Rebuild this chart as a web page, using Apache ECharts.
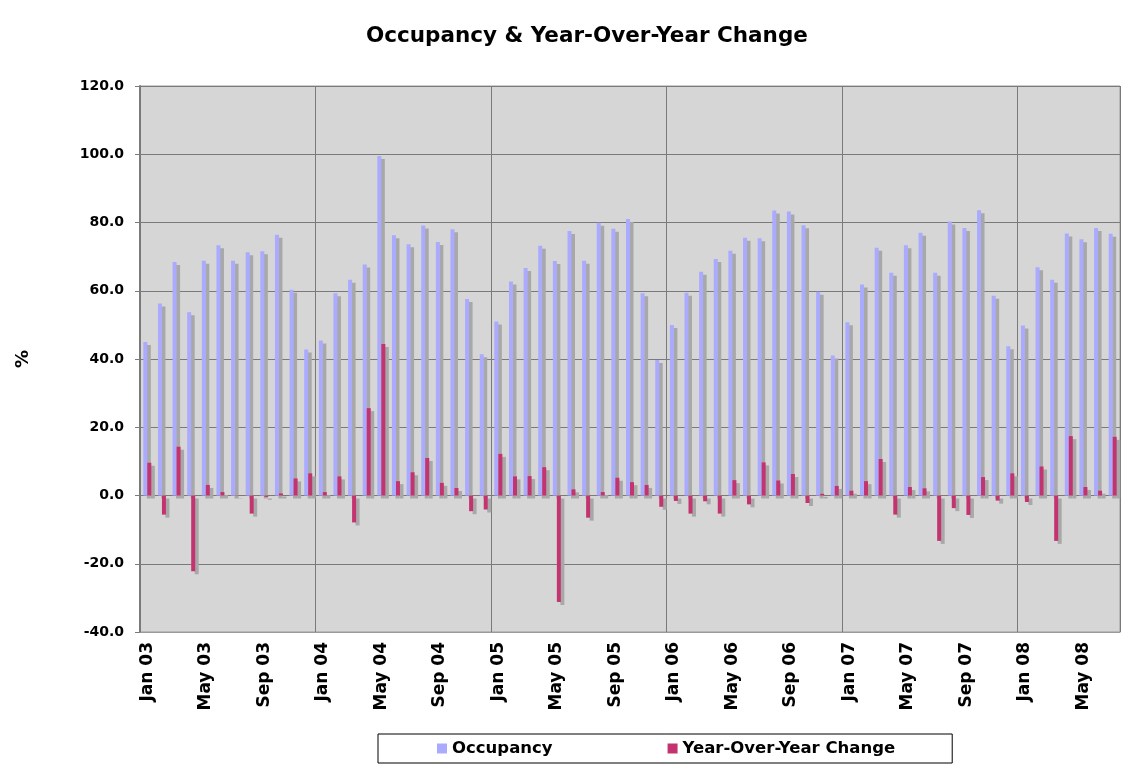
<!DOCTYPE html>
<html>
<head>
<meta charset="utf-8">
<script src="https://cdn.jsdelivr.net/npm/echarts@6/dist/echarts.min.js"></script>
<style>
html,body{margin:0;padding:0;background:#fff;}
#chart{width:1136px;height:773px;}
</style>
</head>
<body>
<div id="chart"></div>
<script>
const categories = [
  'Jan 03','Feb 03','Mar 03','Apr 03','May 03','Jun 03','Jul 03','Aug 03','Sep 03','Oct 03','Nov 03','Dec 03',
  'Jan 04','Feb 04','Mar 04','Apr 04','May 04','Jun 04','Jul 04','Aug 04','Sep 04','Oct 04','Nov 04','Dec 04',
  'Jan 05','Feb 05','Mar 05','Apr 05','May 05','Jun 05','Jul 05','Aug 05','Sep 05','Oct 05','Nov 05','Dec 05',
  'Jan 06','Feb 06','Mar 06','Apr 06','May 06','Jun 06','Jul 06','Aug 06','Sep 06','Oct 06','Nov 06','Dec 06',
  'Jan 07','Feb 07','Mar 07','Apr 07','May 07','Jun 07','Jul 07','Aug 07','Sep 07','Oct 07','Nov 07','Dec 07',
  'Jan 08','Feb 08','Mar 08','Apr 08','May 08','Jun 08','Jul 08'
];
const occupancy = [
  45.0, 56.3, 68.4, 53.7, 68.8, 73.3, 68.8, 71.3, 71.6, 76.4, 60.3, 42.8,
  45.4, 59.3, 63.2, 67.7, 99.5, 76.3, 73.6, 79.1, 74.3, 78.0, 57.6, 41.4,
  51.0, 62.7, 66.7, 73.2, 68.7, 77.5, 68.8, 79.9, 78.2, 81.0, 59.3, 39.7,
  50.0, 59.4, 65.6, 69.3, 71.7, 75.5, 75.4, 83.5, 83.2, 79.2, 59.7, 41.0,
  50.8, 61.8, 72.6, 65.3, 73.3, 77.0, 65.3, 80.3, 78.4, 83.6, 58.5, 43.7,
  49.8, 66.9, 63.2, 76.8, 75.1, 78.4, 76.7
];
const yoyChange = [
  9.6, -5.6, 14.3, -22.2, 3.1, 1.0, 0.1, -5.3, -0.4, 0.6, 5.0, 6.5,
  1.0, 5.6, -7.9, 25.6, 44.4, 4.2, 6.8, 11.0, 3.7, 2.2, -4.6, -4.1,
  12.2, 5.6, 5.7, 8.3, -31.2, 1.8, -6.5, 1.0, 5.2, 3.9, 3.1, -3.3,
  -1.6, -5.3, -1.7, -5.3, 4.5, -2.6, 9.7, 4.4, 6.3, -2.2, 0.5, 2.8,
  1.4, 4.2, 10.7, -5.6, 2.5, 2.1, -13.3, -3.7, -5.7, 5.4, -1.5, 6.5,
  -1.9, 8.5, -13.3, 17.4, 2.5, 1.4, 17.2
];
const yTicks = { min: -40, max: 120, interval: 20 };

const FONT = 'DejaVu Sans, Verdana, sans-serif';
const chart = echarts.init(document.getElementById('chart'));
chart.setOption({
  backgroundColor: '#ffffff',
  animation: false,
  title: {
    text: 'Occupancy & Year-Over-Year Change',
    left: 366,
    top: 25,
    padding: 0,
    textStyle: { fontFamily: FONT, fontSize: 21.5, fontWeight: 'bold', color: '#000' }
  },
  legend: {
    bottom: 10,
    left: 378,
    itemWidth: 10,
    itemHeight: 10,
    itemGap: 115,
    icon: 'rect',
    borderColor: '#000',
    borderWidth: 1,
    padding: [6, 57, 6, 59],
    textStyle: { fontFamily: FONT, fontSize: 16.5, fontWeight: 'bold', color: '#000' },
    data: ['Occupancy', 'Year-Over-Year Change']
  },
  grid: {
    left: 140, right: 16, top: 86, bottom: 141,
    show: true,
    backgroundColor: '#d6d6d6',
    borderColor: '#9a9a9a',
    borderWidth: 1
  },
  xAxis: {
    type: 'category',
    data: categories,
    boundaryGap: true,
    axisLine: { show: true, onZero: false, lineStyle: { color: '#9a9a9a', width: 1 } },
    axisTick: { show: false },
    axisLabel: {
      interval: 3,
      rotate: 90,
      margin: 10,
      fontFamily: FONT, fontSize: 17, fontWeight: 'bold', color: '#000'
    },
    splitLine: { show: true, interval: 11, lineStyle: { color: '#7a7a7a', width: 1 } }
  },
  yAxis: {
    type: 'value',
    min: yTicks.min, max: yTicks.max, interval: yTicks.interval,
    name: '%',
    nameLocation: 'middle',
    nameGap: 108,
    nameRotate: 90,
    nameTextStyle: { fontFamily: FONT, fontSize: 18, fontWeight: 'bold', color: '#000' },
    axisLine: { show: true, lineStyle: { color: '#7a7a7a', width: 2 } },
    axisTick: { show: true, length: 5, lineStyle: { color: '#7a7a7a' } },
    axisLabel: {
      margin: 16,
      formatter: v => v.toFixed(1),
      fontFamily: FONT, fontSize: 14, fontWeight: 'bold', color: '#000'
    },
    splitLine: { show: true, lineStyle: { color: '#7a7a7a', width: 1 } }
  },
  series: [
    {
      name: 'Occupancy',
      type: 'bar',
      data: occupancy,
      barWidth: 4,
      barGap: '0%',
      itemStyle: {
        color: '#aaaaff',
        shadowColor: '#a8a8a8', shadowBlur: 0, shadowOffsetX: 3.5, shadowOffsetY: 3
      }
    },
    {
      name: 'Year-Over-Year Change',
      type: 'bar',
      data: yoyChange,
      barWidth: 4,
      barGap: '0%',
      itemStyle: {
        color: '#c2336f',
        shadowColor: '#a8a8a8', shadowBlur: 0, shadowOffsetX: 3.5, shadowOffsetY: 3
      }
    }
  ]
});
</script>
</body>
</html>
